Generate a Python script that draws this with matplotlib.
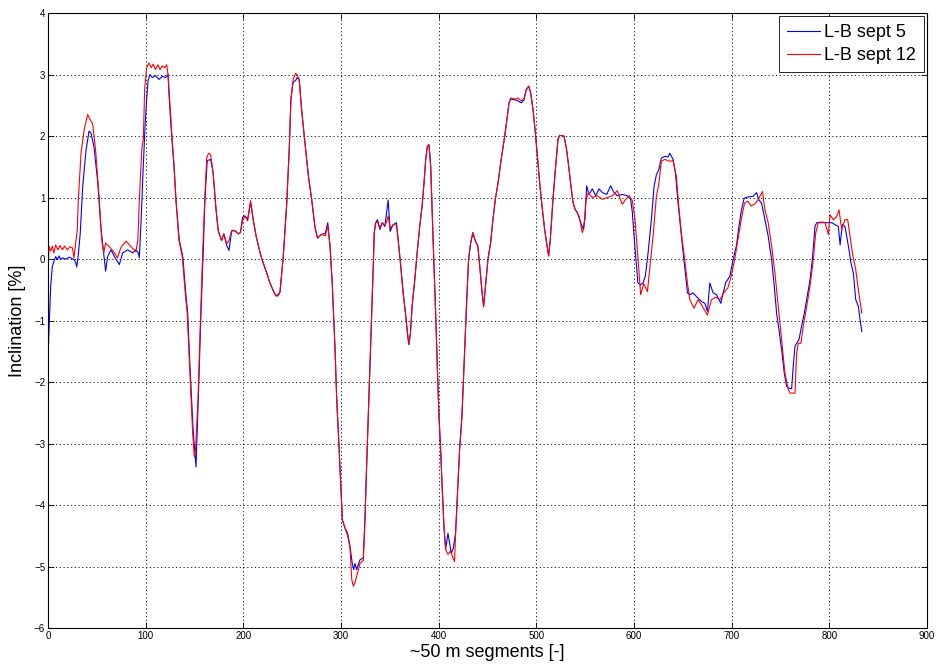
import numpy as np
import matplotlib
matplotlib.use("Agg")
from matplotlib import pyplot as plt

# inclination profile, run of Sept 5 (segment index, inclination %)
sept5_seg = [
    0, 1.4, 2.7, 4.4, 6, 7.8, 9.6, 11.3, 13, 14.7, 18, 22, 26.6, 28.3, 29.4, 30.7,
    33, 35.5, 39, 42, 44, 47, 51, 54, 57, 59, 61, 64.5, 68, 73, 76.5, 81.5, 86.7,
    90, 92.5, 93.5, 95.5, 97.5, 99.5, 101, 102.4, 104.4, 106.8, 110, 113.7, 117,
    120.5, 122.9, 123.9, 125.6, 127.3, 129, 131, 134.4, 138, 141, 143, 145.3,
    148.7, 151.5, 153.9, 156.3, 159, 160.7, 163, 166.5, 169, 172, 174.3, 177.7,
    180, 183, 185.3, 188, 191.4, 194.8, 197, 199.2, 201.6, 204.4, 207.4, 210, 213,
    217, 220, 223.8, 227, 231.3, 233.5, 235.7, 237.5, 240.9, 244.3, 247, 248.7,
    251, 253.5, 255, 257.2, 259.6, 263, 266.7, 270, 273.5, 276, 280, 284, 286.4,
    288.8, 291, 293.9, 295.6, 297.3, 299.7, 301.4, 304, 306.8, 309.2, 311.5, 313,
    314.3, 316, 319.4, 322.8, 324.5, 326.2, 327.9, 329.6, 331.3, 333, 334, 335.4,
    337.4, 339.8, 342.2, 344.9, 346.6, 348.3, 350.3, 353.4, 356.8, 358.5, 361.2,
    363.6, 366, 368, 369.4, 371.1, 372.8, 375.5, 378.2, 380.6, 383, 385, 386.7,
    388.4, 390.1, 391.8, 393.5, 395.2, 396.9, 398.6, 400.3, 402, 403.4, 405.4,
    407.1, 409.5, 411.2, 412.9, 415, 417.3, 419, 421.4, 423.8, 425.9, 427.6,
    428.9, 430.6, 432.7, 435, 437.4, 440.1, 442, 444.4, 446, 448, 450.5, 453.2,
    455.6, 458, 460.8, 464, 467.6, 470.3, 472, 473.7, 477.8, 481.2, 484.6, 487.4,
    489.8, 492.2, 494.2, 496.6, 499, 501, 503.4, 505.8, 508.5, 510.9, 512.6,
    514.3, 517, 519.5, 522.2, 523.9, 528.3, 530.7, 533.1, 535.2, 537.5, 539.9,
    542, 545.4, 547.8, 549.8, 551.5, 553.9, 557.3, 560.8, 564.2, 567.6, 572,
    576.1, 579.5, 582.9, 588, 593.2, 596.6, 598.3, 600, 601.7, 604, 606.8, 609.2,
    611.6, 614.4, 617.8, 620.5, 622.9, 625.3, 628, 631.5, 634.9, 636.6, 640,
    642.4, 645.1, 647.5, 650.3, 652.6, 654.7, 657.1, 660.5, 663.9, 669, 672.5,
    675.2, 677.6, 681, 684.4, 688.9, 691.3, 693.7, 698.1, 701.5, 705, 707.4, 710,
    712.8, 716.9, 722, 725.5, 727.9, 730.6, 734, 737.4, 740.9, 743.6, 746, 748.4,
    751.1, 753.8, 756.2, 758.6, 761.4, 763, 764.8, 766.5, 768.9, 771.6, 774.4,
    776.8, 780.2, 782.6, 785.3, 787, 792.1, 797.3, 802.4, 805.8, 809.2, 811,
    813.3, 816, 819.5, 822.2, 824.6, 827, 829.7, 831.5, 833.2,
]
sept5_incl = [
    -1.61, -0.99, -0.45, -0.12, -0.04, 0.04, -0.01, 0.05, -0.01, 0.02, 0.0, 0.03,
    -0.01, -0.05, -0.13, 0.02, 0.42, 1.18, 1.78, 2.08, 2.05, 1.83, 1.24, 0.53,
    0.1, -0.2, 0.04, 0.15, 0.04, -0.09, 0.1, 0.15, 0.1, 0.15, 0.1, 0.02, 0.7,
    1.5, 2.2, 2.6, 2.9, 3.0, 2.95, 2.98, 2.92, 2.97, 2.95, 3.0, 2.67, 2.23, 1.85,
    1.52, 0.96, 0.31, 0.04, -0.55, -0.88, -1.73, -2.82, -3.38, -2.27, -1.03,
    0.16, 0.97, 1.6, 1.62, 1.41, 0.81, 0.46, 0.3, 0.41, 0.22, 0.14, 0.46, 0.46,
    0.41, 0.43, 0.68, 0.7, 0.65, 0.92, 0.65, 0.38, 0.11, -0.05, -0.22, -0.38,
    -0.54, -0.6, -0.57, -0.54, 0.05, 0.87, 1.79, 2.6, 2.88, 2.9, 2.95, 2.92,
    2.44, 1.9, 1.34, 0.96, 0.5, 0.34, 0.4, 0.42, 0.59, 0.2, -0.39, -1.47, -2.29,
    -2.83, -3.64, -4.24, -4.37, -4.46, -4.67, -4.95, -5.05, -4.95, -5.05, -4.89,
    -4.86, -4.24, -3.37, -2.56, -1.75, -0.93, -0.12, 0.42, 0.59, 0.64, 0.48,
    0.59, 0.53, 0.75, 0.96, 0.45, 0.56, 0.59, 0.31, -0.12, -0.55, -0.88, -1.2,
    -1.39, -1.2, -0.77, -0.34, 0.15, 0.53, 0.86, 1.24, 1.62, 1.83, 1.86, 1.51,
    0.69, -0.12, -0.88, -1.75, -2.56, -3.1, -3.64, -4.35, -4.72, -4.46, -4.62,
    -4.78, -4.7, -4.46, -3.91, -3.1, -2.56, -1.75, -1.09, -0.6, -0.01, 0.26,
    0.43, 0.3, 0.21, -0.11, -0.54, -0.76, -0.43, 0.0, 0.27, 0.65, 0.97, 1.24,
    1.62, 2.0, 2.32, 2.54, 2.6, 2.59, 2.57, 2.54, 2.59, 2.76, 2.81, 2.7, 2.43,
    2.05, 1.68, 1.24, 0.86, 0.48, 0.22, 0.05, 0.32, 0.97, 1.46, 1.95, 2.01, 2.0,
    1.81, 1.51, 1.22, 0.92, 0.8, 0.76, 0.59, 0.49, 0.65, 1.19, 1.05, 1.14, 1.03,
    1.14, 1.08, 1.05, 1.19, 1.08, 1.03, 1.05, 1.03, 0.97, 0.76, 0.38, 0.05,
    -0.39, -0.42, -0.39, -0.28, 0.1, 0.64, 1.18, 1.37, 1.45, 1.64, 1.67, 1.66,
    1.72, 1.62, 1.4, 0.91, 0.53, 0.1, -0.23, -0.55, -0.58, -0.55, -0.61, -0.69,
    -0.72, -0.85, -0.39, -0.55, -0.58, -0.72, -0.55, -0.39, -0.28, -0.01, 0.23,
    0.53, 0.8, 0.99, 1.01, 1.02, 1.08, 0.96, 0.91, 0.64, 0.37, -0.01, -0.44,
    -0.88, -1.15, -1.47, -1.85, -2.07, -2.1, -2.11, -1.75, -1.42, -1.37, -1.31,
    -1.09, -0.88, -0.66, -0.34, -0.01, 0.53, 0.59, 0.6, 0.59, 0.59, 0.56, 0.53,
    0.23, 0.56, 0.53, 0.21, -0.07, -0.23, -0.66, -0.77, -0.99, -1.18,
]

# inclination profile, run of Sept 12
sept12_seg = [
    0, 1, 2.7, 4.4, 6, 7.8, 10.2, 12.3, 14.7, 17, 19.8, 22.5, 25, 26.6, 28.3, 30,
    31, 33.8, 37, 40.6, 43, 45.7, 49, 52.5, 55, 57, 59, 63, 68, 71, 75, 80, 85,
    90, 92, 93.5, 96, 97.6, 99, 101, 103.4, 105.8, 107.8, 110, 112.6, 114.7, 117,
    119.5, 121.5, 122.9, 124.9, 127.3, 129, 131, 134, 137.5, 140.5, 142.5, 145,
    148, 149.8, 151, 153.5, 156, 158.5, 160.5, 162.5, 164.5, 166.5, 169, 172,
    174.3, 177.7, 180, 183, 185.3, 188, 191.4, 194.8, 197, 199.2, 201.6, 204.4,
    207.4, 210, 213, 217, 220, 223.8, 227, 231.3, 233.5, 235.7, 237.5, 240.9,
    244.3, 247, 248.7, 251, 253.5, 255, 257.2, 259.6, 263, 266.7, 270, 273.5, 276,
    280, 284, 286.4, 288.8, 291, 293.9, 295.6, 297.3, 299.7, 301.4, 304, 306.8,
    309.2, 311, 312.6, 314.5, 317, 319.4, 322.8, 324.5, 326.2, 327.9, 329.6,
    331.3, 333, 334, 335.4, 337.4, 339.8, 342.2, 344.9, 346.6, 348.3, 350.3,
    353.4, 356.8, 358.5, 361.2, 363.6, 366, 368, 369.4, 371.1, 372.8, 375.5,
    378.2, 380.6, 383, 385, 386.7, 388.4, 390.1, 391.8, 393.5, 395.2, 396.9,
    398.6, 400.3, 402, 403.4, 405.4, 407.1, 409.5, 412, 414.5, 416.3, 417.3, 419,
    421.4, 423.8, 425.9, 427.6, 428.9, 430.6, 432.7, 435, 437.4, 440.1, 442,
    444.4, 446, 448, 450.5, 453.2, 455.6, 458, 460.8, 464, 467.6, 470.3, 472,
    473.7, 477.8, 481.2, 484.6, 487.4, 489.8, 492.2, 494.2, 496.6, 499, 501,
    503.4, 505.8, 508.5, 510.9, 512.6, 514.3, 517, 519.5, 522.2, 523.9, 528.3,
    530.7, 533.1, 535.2, 537.5, 539.9, 543.7, 547.1, 548.8, 550.5, 553.2, 557.3,
    562.4, 567.6, 572.7, 577.8, 582.9, 585.3, 588, 591.5, 594.9, 598.3, 601,
    603.4, 606.8, 610, 613.7, 616, 619.5, 622.9, 625.3, 628, 631.5, 636.6, 640,
    643.4, 645.8, 648.5, 651.9, 654.7, 657.1, 661.5, 665.6, 669, 675.2, 679.3,
    684, 688, 692.7, 696.1, 699.5, 703, 706.4, 709.8, 713.2, 716.6, 720, 724,
    726.9, 731.6, 734, 737.4, 740.9, 744.3, 747.7, 751.1, 754.5, 757.9, 760,
    764.8, 766.5, 768.2, 770.9, 773.3, 776.8, 780.2, 783.6, 786, 788.7, 795.6,
    799, 800.7, 804.1, 807.5, 809.9, 812.6, 816, 818.8, 821.2, 823.6, 827, 829.7,
    831.5, 833.2,
]
sept12_incl = [
    -0.26, 0.21, 0.13, 0.21, 0.1, 0.23, 0.15, 0.22, 0.15, 0.21, 0.15, 0.2, 0.18,
    0.02, 0.26, 0.48, 0.96, 1.72, 2.1, 2.35, 2.27, 2.2, 1.72, 0.96, 0.31, 0.1,
    0.26, 0.2, 0.1, 0.02, 0.2, 0.29, 0.2, 0.12, 0.31, 0.96, 1.78, 1.96, 2.78,
    3.11, 3.19, 3.11, 3.17, 3.08, 3.16, 3.08, 3.14, 3.11, 3.16, 3.0, 2.5, 1.91,
    1.52, 0.96, 0.31, 0.04, -0.55, -0.88, -1.75, -2.8, -3.22, -3.1, -2.3, -1.03,
    0.16, 0.97, 1.65, 1.72, 1.7, 1.41, 0.81, 0.46, 0.3, 0.41, 0.25, 0.3, 0.46,
    0.46, 0.41, 0.43, 0.62, 0.7, 0.62, 0.95, 0.65, 0.38, 0.11, -0.05, -0.22,
    -0.38, -0.54, -0.6, -0.6, -0.54, 0.05, 0.87, 1.79, 2.6, 2.92, 3.02, 3.0,
    2.92, 2.44, 1.9, 1.34, 0.96, 0.5, 0.34, 0.4, 0.38, 0.55, 0.2, -0.39, -1.47,
    -2.29, -2.83, -3.64, -4.24, -4.37, -4.5, -4.7, -5.21, -5.32, -5.25, -5.1,
    -4.95, -4.9, -4.24, -3.37, -2.56, -1.75, -0.93, -0.12, 0.42, 0.59, 0.6, 0.5,
    0.59, 0.55, 0.6, 0.7, 0.5, 0.56, 0.55, 0.31, -0.12, -0.55, -0.88, -1.2,
    -1.39, -1.2, -0.77, -0.34, 0.15, 0.53, 0.86, 1.24, 1.62, 1.83, 1.86, 1.51,
    0.69, -0.12, -0.88, -1.75, -2.56, -3.1, -3.64, -4.35, -4.72, -4.8, -4.75,
    -4.85, -4.92, -4.46, -3.91, -3.1, -2.56, -1.75, -1.09, -0.6, -0.01, 0.26,
    0.43, 0.3, 0.21, -0.11, -0.54, -0.78, -0.43, 0.0, 0.27, 0.65, 0.97, 1.24,
    1.62, 2.0, 2.32, 2.54, 2.62, 2.6, 2.62, 2.57, 2.61, 2.76, 2.81, 2.7, 2.43,
    2.05, 1.68, 1.24, 0.86, 0.48, 0.22, 0.05, 0.32, 0.97, 1.46, 1.95, 2.01, 2.0,
    1.81, 1.51, 1.22, 0.92, 0.8, 0.7, 0.43, 0.51, 0.92, 1.08, 1.0, 1.03, 0.97,
    1.0, 1.03, 1.11, 1.0, 0.89, 0.97, 1.03, 0.95, 0.65, 0.16, -0.58, -0.4, -0.53,
    -0.17, 0.37, 1.02, 1.21, 1.59, 1.62, 1.59, 1.6, 1.34, 0.86, 0.42, -0.01,
    -0.39, -0.66, -0.8, -0.66, -0.74, -0.91, -0.66, -0.62, -0.66, -0.53, -0.47,
    -0.28, -0.01, 0.31, 0.64, 0.91, 0.94, 0.86, 0.9, 0.96, 1.1, 0.8, 0.59, 0.21,
    -0.23, -0.77, -1.31, -1.85, -2.12, -2.18, -2.18, -1.53, -1.37, -1.37, -1.09,
    -0.77, -0.44, -0.01, 0.42, 0.59, 0.59, 0.4, 0.72, 0.64, 0.69, 0.8, 0.48,
    0.64, 0.64, 0.37, 0.1, -0.17, -0.5, -0.69, -0.88,
]

x_ticks = np.arange(0, 901, 100)
y_ticks = np.arange(-6, 5, 1)

plt.rcParams['font.family'] = ['Liberation Sans', 'DejaVu Sans']

fig = plt.figure(figsize=(9.36, 6.68), dpi=100)
ax = fig.add_axes([0.0513, 0.0598, 0.9391, 0.9207])

ax.plot(sept5_seg, sept5_incl, color='b', lw=0.8, label='L-B sept 5')
ax.plot(sept12_seg, sept12_incl, color='r', lw=0.8, label='L-B sept 12')

ax.set_xlim(0, 900)
ax.set_ylim(-6, 4)
ax.set_xticks(x_ticks)
ax.set_yticks(y_ticks)
ax.tick_params(direction='in', top=True, right=True, labelsize=7, length=4,
               width=0.6, pad=2)
ax.grid(True, color='k', linestyle=(0, (1.5, 3)), linewidth=0.6)
for sp in ax.spines.values():
    sp.set_linewidth(0.8)

ax.set_xlabel('~50 m segments [-]', fontsize=13, labelpad=2)
ax.set_ylabel('Inclination [%]', fontsize=13, labelpad=6)

leg = ax.legend(loc='upper right', fontsize=13, fancybox=False, framealpha=1,
                edgecolor='k', borderaxespad=0.15, handlelength=1.8,
                handletextpad=0.25, borderpad=0.45, labelspacing=0.35)
leg.get_frame().set_linewidth(0.6)

fig.savefig('out.png', dpi=100)
